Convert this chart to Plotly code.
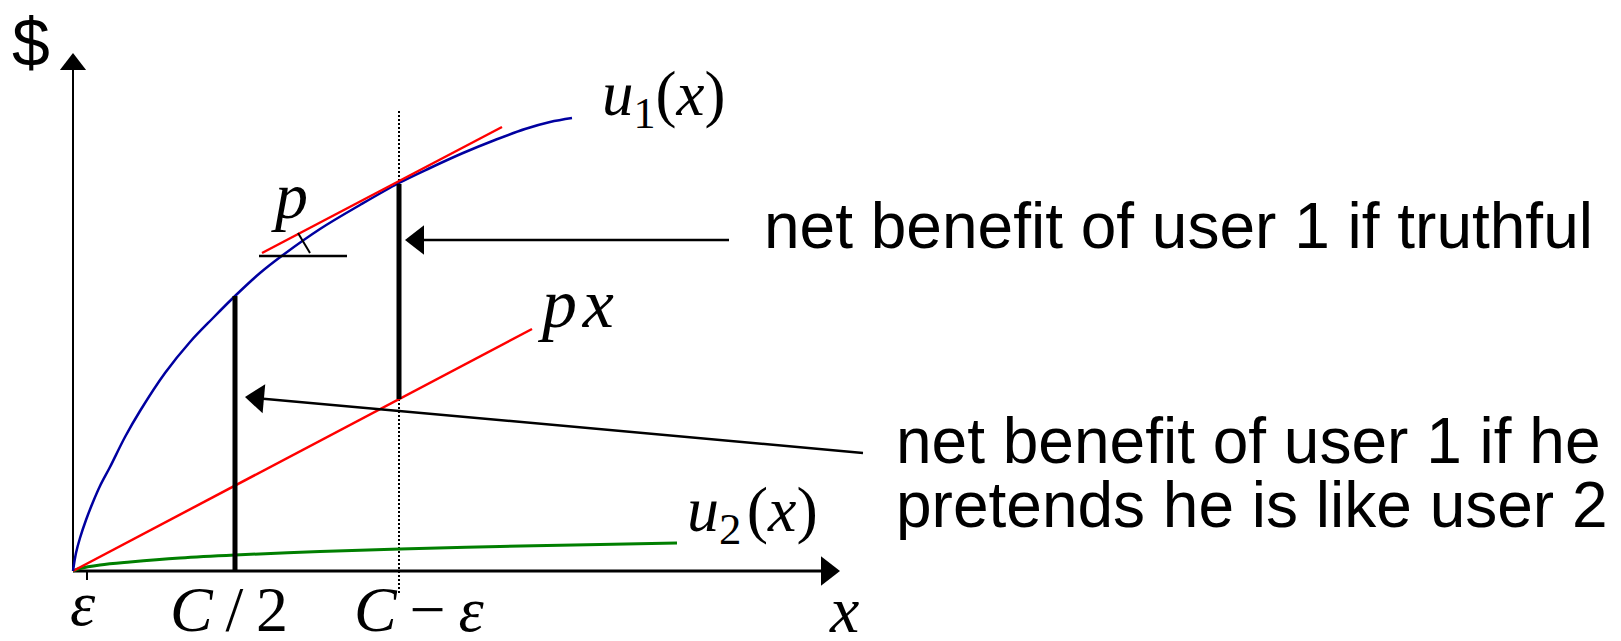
import math
import plotly.graph_objects as go

# ---- diagram data (drawing units; origin at the corner of the axes) ----
u1_x = [0, 3, 7, 13, 20, 27, 37, 52, 67, 92, 117, 140, 162, 187, 210, 247, 287, 326, 357, 390, 422, 452, 477, 499]
u1_y = [0, 18, 33, 51, 69, 85, 104, 134, 160, 198, 229, 253, 275, 298, 316, 342, 366, 388, 403, 418, 431, 442, 449, 453]

u2_x = [0, 7, 27, 57, 107, 162, 247, 327, 427, 527, 604]
u2_y = [0, 2.5, 6, 9, 13, 16, 19.5, 22, 24.5, 26.5, 28]

px_x = [0, 459]
px_y = [0, 242]

tangent_x = [189, 429]
tangent_y = [318, 444]

eps_x = 14
c_half_x = 162
c_minus_eps_x = 326
c_half_top = 275
c_me_bottom = 172
c_me_top = 387
dotted_y = [-22, 461]

slope_base_x = [186, 274]
slope_base_y = [315, 315]
slope_tick_x = [225, 237]
slope_tick_y = [338, 318]

x_axis_end = 767
y_axis_end = 518

arrow1_tail = (656, 331)
arrow1_tip = (332, 331)
arrow2_tail = (790, 118)
arrow2_tip = (172, 174)

text_truthful = "net benefit of user 1 if truthful"
text_pretend_1 = "net benefit of user 1 if he"
text_pretend_2 = "pretends he is like user 2"

X_RANGE = [-65, 1556]
Y_RANGE = [-78, 563]

fig = go.Figure()

def line(xs, ys, color, width, dash=None, shape="linear"):
    fig.add_trace(go.Scatter(x=xs, y=ys, mode="lines",
                             line=dict(color=color, width=width, dash=dash, shape=shape),
                             hoverinfo="skip", showlegend=False))

def head(tip, tail, length=16):
    dx, dy = tip[0] - tail[0], tip[1] - tail[1]
    n = math.hypot(dx, dy)
    ux, uy = dx / n, dy / n
    r = length / 1.5
    cx, cy = tip[0] - r * ux, tip[1] - r * uy
    ang = math.degrees(math.atan2(ux, uy))
    fig.add_trace(go.Scatter(x=[cx], y=[cy], mode="markers",
                             marker=dict(symbol="triangle-up", size=2 * r, angle=ang,
                                         color="black", line=dict(width=0)),
                             hoverinfo="skip", showlegend=False))

# axes
line([0, 0], [0, y_axis_end - 10], "black", 2)
head((0, y_axis_end), (0, 0), 17)
line([0, x_axis_end - 10], [0, 0], "black", 3)
head((x_axis_end, 0), (0, 0), 19)
line([eps_x, eps_x], [0, -9], "black", 2)

# dotted guide
line([c_minus_eps_x, c_minus_eps_x], dotted_y, "black", 2, dash="2px,2px")

# curves
line(u2_x, u2_y, "#007f00", 3, shape="spline")
line(px_x, px_y, "#ff0000", 2.5)
line(u1_x, u1_y, "#0000a0", 2.5, shape="spline")
line(tangent_x, tangent_y, "#ff0000", 2.5)

# slope indicator
line(slope_base_x, slope_base_y, "black", 2.5)
line(slope_tick_x, slope_tick_y, "black", 2)

# net benefit bars
line([c_half_x, c_half_x], [0, c_half_top], "black", 5)
line([c_minus_eps_x, c_minus_eps_x], [c_me_bottom, c_me_top], "black", 5)

# pointer arrows
for tail, tip in [(arrow1_tail, arrow1_tip), (arrow2_tail, arrow2_tip)]:
    dx, dy = tip[0] - tail[0], tip[1] - tail[1]
    n = math.hypot(dx, dy)
    line([tail[0], tip[0] - 10 * dx / n], [tail[1], tip[1] - 10 * dy / n], "black", 2.5)
    head(tip, tail, 19)

SANS = "Liberation Sans, Arial, sans-serif"
SERIF = "Liberation Serif, Times New Roman, serif"

def label(x, y, text, size, family, xanchor="center"):
    fig.add_annotation(x=x, y=y, text=text, showarrow=False, xanchor=xanchor, yanchor="middle",
                       font=dict(family=family, size=size, color="black"))

label(-42, 529, "$", 68, SANS)
label(689, 345, text_truthful, 64, SANS, "left")
label(821, 130, text_pretend_1, 64, SANS, "left")
label(821, 66, text_pretend_2, 64, SANS, "left")

label(527, 473, "<i>u</i><sub>1</sub>(<i>x</i>)", 63, SERIF, "left")
label(462, 268, "<i>p</i>\u200a<i>x</i>", 70, SERIF, "left")
label(216, 376, "<i>p</i>", 66, SERIF)
label(612, 57, "<i>u</i><sub>2</sub>\u200a(<i>x</i>)", 64, SERIF, "left")
label(10, -32, "<i>ε</i>", 64, SERIF)
label(156, -38, "<i>C</i>\u2009/\u20092", 64, SERIF)
label(346, -38, "<i>C</i>\u2009\u2212\u2009<i>ε</i>", 64, SERIF)
label(771, -38, "<i>x</i>", 66, SERIF)

fig.update_layout(width=1621, height=641, margin=dict(l=0, r=0, t=0, b=0),
                  paper_bgcolor="white", plot_bgcolor="white",
                  xaxis=dict(range=X_RANGE, visible=False, fixedrange=True),
                  yaxis=dict(range=Y_RANGE, visible=False, fixedrange=True))

fig.write_html("out.html")
